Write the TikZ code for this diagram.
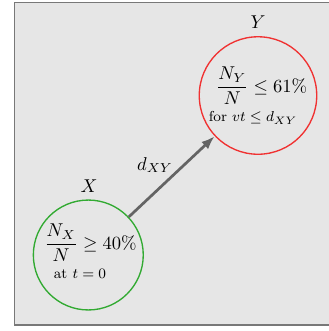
\documentclass[tikz,border=0pt]{standalone}
\usepackage{amsmath}
\usetikzlibrary{arrows.meta}
\definecolor{bgfill}{RGB}{230,230,230}
\definecolor{bgline}{RGB}{120,120,120}
\definecolor{cgreen}{RGB}{50,170,50}
\definecolor{cred}{RGB}{240,50,50}
\definecolor{arrowgray}{RGB}{100,100,100}
\tikzset{
  region/.style={circle, draw, line width=0.75pt, inner sep=0pt},
  bigtext/.style={inner sep=0pt, scale=1.03},
  smalltext/.style={inner sep=0pt, font=\footnotesize},
  link/.style={draw=arrowgray, line width=1.5pt, -{Latex[length=7.5pt,width=5.5pt]}}
}
\begin{document}
\begin{tikzpicture}[x=0.555pt, y=-0.555pt]
\useasboundingbox (0,0) rectangle (329,331);
\path[fill=bgfill, draw=bgline, line width=0.6pt] (14.5,2.7) rectangle (345,325);
\node[region, draw=cgreen, minimum size=61pt] (gx) at (88.3,255) {};
\node[region, draw=cred, minimum size=65.2pt] (ry) at (258,95.5) {};
\node[bigtext] (gxt) at (90.5,243) {$\dfrac{N_X}{N} \geq 40\%$};
\node[smalltext] (gxs) at (80,274) {at $t=0$};
\node[bigtext] (ryt) at (261.7,86) {$\dfrac{N_Y}{N} \leq 61\%$};
\node[smalltext] (rys) at (253,118) {for $vt \leq d_{XY}$};
\node[bigtext] (lx) at (89,186) {$X$};
\node[bigtext] (ly) at (258,22) {$Y$};
\node[bigtext] (ld) at (155,165) {$d_{XY}$};
\draw[link] (gx) -- (ry);
\end{tikzpicture}
\end{document}
